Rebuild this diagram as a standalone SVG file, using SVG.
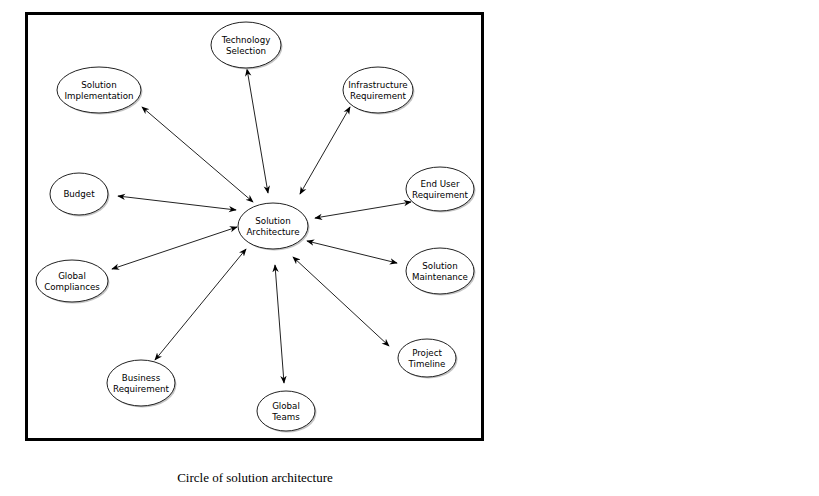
<svg xmlns="http://www.w3.org/2000/svg" width="819" height="496" viewBox="0 0 819 496">
<defs>
<marker id="ah" viewBox="0 0 10 10" refX="9" refY="5" markerWidth="8" markerHeight="8" orient="auto-start-reverse" markerUnits="userSpaceOnUse">
<path d="M0,1 L10,5 L0,9 L3,5 z" fill="#000"/>
</marker>
</defs>
<style>
.node ellipse.sh{fill:#c4c4c4;stroke:none}
.node ellipse.e{fill:#fff;stroke:#222;stroke-width:1}
.node text{font-family:"DejaVu Sans",Verdana,sans-serif;font-size:8.7px;fill:#000;text-anchor:middle}
.conn line{stroke:#222;stroke-width:1;marker-start:url(#ah);marker-end:url(#ah)}
</style>
<rect x="0" y="0" width="819" height="496" fill="#fff"/>
<rect x="26.5" y="13.5" width="456" height="426" fill="#fff" stroke="#000" stroke-width="3"/>
<g id="connectors" class="conn">
<line x1="268" y1="193" x2="247" y2="69"/>
<line x1="253" y1="202" x2="142" y2="107"/>
<line x1="300" y1="194" x2="350" y2="107"/>
<line x1="236" y1="210" x2="118" y2="196"/>
<line x1="315" y1="218" x2="411" y2="202"/>
<line x1="237" y1="227" x2="112" y2="269"/>
<line x1="307" y1="241" x2="397" y2="263"/>
<line x1="246" y1="249" x2="155" y2="360"/>
<line x1="275" y1="265" x2="284" y2="383"/>
<line x1="293" y1="257" x2="389" y2="346"/>
</g>
<g id="tech" class="node"><ellipse class="sh" cx="247.5" cy="46.5" rx="35" ry="23"/><ellipse class="e" cx="246" cy="45" rx="35" ry="23"/><text x="246" y="43">Technology</text><text x="246" y="54">Selection</text></g>
<g id="impl" class="node"><ellipse class="sh" cx="100.5" cy="91.5" rx="42" ry="23"/><ellipse class="e" cx="99" cy="90" rx="42" ry="23"/><text x="99" y="88">Solution</text><text x="99" y="99">Implementation</text></g>
<g id="infra" class="node"><ellipse class="sh" cx="379.5" cy="91.5" rx="35" ry="23"/><ellipse class="e" cx="378" cy="90" rx="35" ry="23"/><text x="378" y="88">Infrastructure</text><text x="378" y="99">Requirement</text></g>
<g id="budget" class="node"><ellipse class="sh" cx="80.5" cy="195.5" rx="29" ry="21"/><ellipse class="e" cx="79" cy="194" rx="29" ry="21"/><text x="79" y="197">Budget</text></g>
<g id="arch" class="node"><ellipse class="sh" cx="274.5" cy="227.5" rx="35" ry="23"/><ellipse class="e" cx="273" cy="226" rx="35" ry="23"/><text x="273" y="224">Solution</text><text x="273" y="235">Architecture</text></g>
<g id="enduser" class="node"><ellipse class="sh" cx="441.5" cy="190.5" rx="34" ry="22"/><ellipse class="e" cx="440" cy="189" rx="34" ry="22"/><text x="440" y="187">End User</text><text x="440" y="198">Requirement</text></g>
<g id="maint" class="node"><ellipse class="sh" cx="441.5" cy="272.5" rx="34" ry="23"/><ellipse class="e" cx="440" cy="271" rx="34" ry="23"/><text x="440" y="269">Solution</text><text x="440" y="280">Maintenance</text></g>
<g id="compl" class="node"><ellipse class="sh" cx="73.5" cy="282.5" rx="36" ry="21"/><ellipse class="e" cx="72" cy="281" rx="36" ry="21"/><text x="72" y="279">Global</text><text x="72" y="290">Compliances</text></g>
<g id="business" class="node"><ellipse class="sh" cx="142.5" cy="384.5" rx="34" ry="23"/><ellipse class="e" cx="141" cy="383" rx="34" ry="23"/><text x="141" y="381">Business</text><text x="141" y="392">Requirement</text></g>
<g id="teams" class="node"><ellipse class="sh" cx="287.5" cy="412.5" rx="29" ry="20"/><ellipse class="e" cx="286" cy="411" rx="29" ry="20"/><text x="286" y="409">Global</text><text x="286" y="420">Teams</text></g>
<g id="timeline" class="node"><ellipse class="sh" cx="428.5" cy="359.5" rx="29" ry="19"/><ellipse class="e" cx="427" cy="358" rx="29" ry="19"/><text x="427" y="356">Project</text><text x="427" y="367">Timeline</text></g>
<text x="255" y="482" font-family="Liberation Serif,Times New Roman,serif" font-size="13" text-anchor="middle" fill="#000">Circle of solution architecture</text>
</svg>
